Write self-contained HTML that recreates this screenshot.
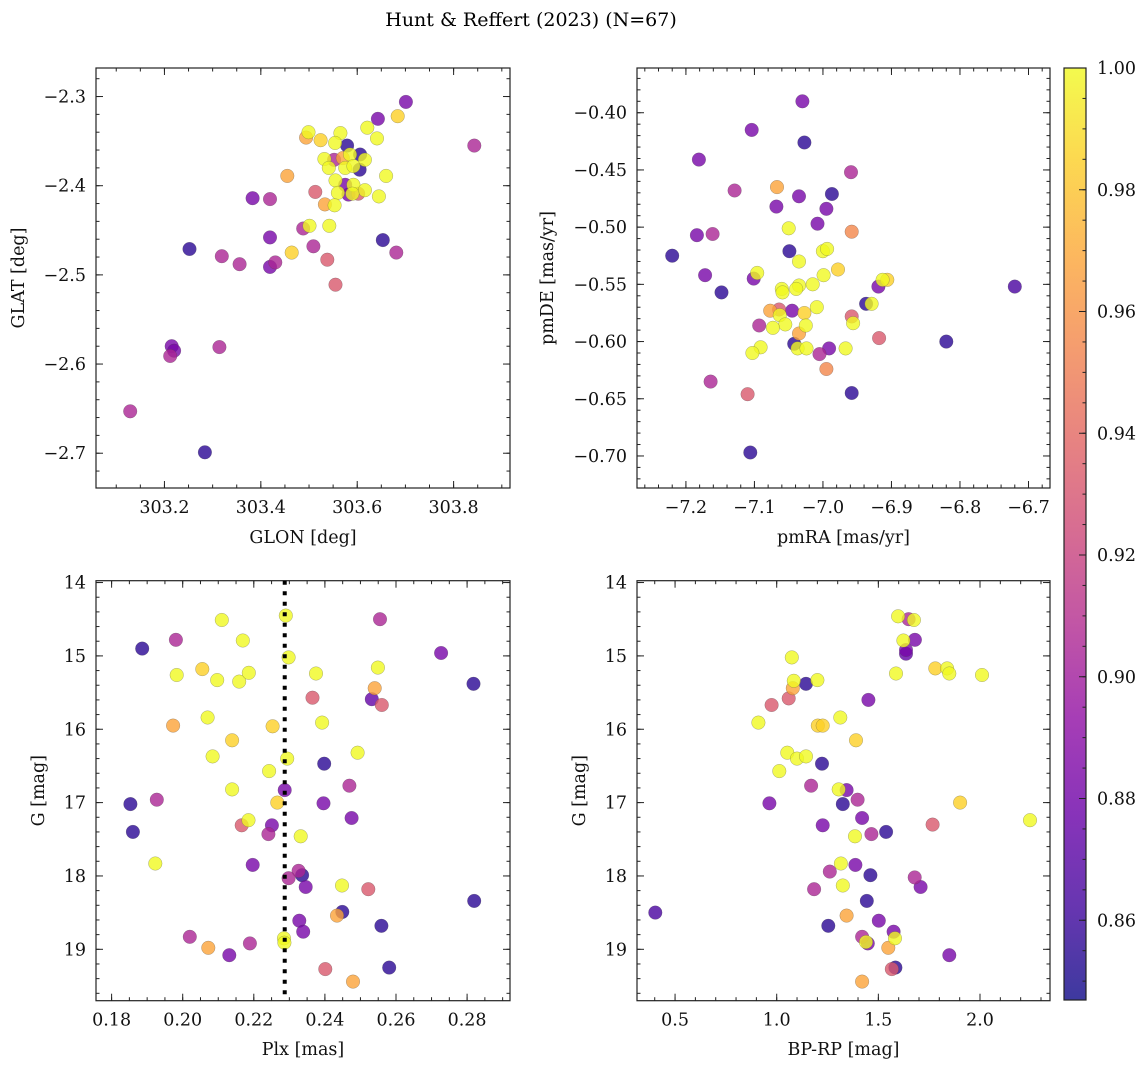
<!DOCTYPE html>
<html><head><meta charset="utf-8">
<style>
html,body{margin:0;padding:0;background:#fff;}
svg{display:block;font-family:"DejaVu Serif","Liberation Serif",serif;}
</style></head>
<body>
<svg id="fig" width="1148" height="1067" viewBox="0 0 1148 1067">
<defs>
<linearGradient id="plasmaGrad" x1="0" y1="1" x2="0" y2="0">
<stop offset="0" stop-color="#0d0887"/><stop offset="0.1" stop-color="#41049d"/><stop offset="0.2" stop-color="#6a00a8"/>
<stop offset="0.3" stop-color="#8f0da4"/><stop offset="0.4" stop-color="#b12a90"/><stop offset="0.5" stop-color="#cc4778"/>
<stop offset="0.6" stop-color="#e16462"/><stop offset="0.7" stop-color="#f2844b"/><stop offset="0.8" stop-color="#fca636"/>
<stop offset="0.9" stop-color="#fcce25"/><stop offset="1" stop-color="#f0f921"/>
</linearGradient>
</defs>
<text x="531" y="26" font-size="19" text-anchor="middle">Hunt &amp; Reffert (2023) (N=67)</text>
</svg>
<script>
// ---- Data ----
const vmin = 0.8469, vmax = 1.0;
const cbarTicks = [0.86, 0.88, 0.90, 0.92, 0.94, 0.96, 0.98, 1.00];

const p1_glon = [303.701,303.643,303.684,303.843,303.621,303.641,303.499,303.494,303.524,303.565,303.579,303.554,303.606,303.616,303.585,303.532,303.570,303.552,303.541,303.605,303.575,303.592,303.660,303.455,303.555,303.575,303.592,303.616,303.645,303.513,303.560,303.582,303.590,303.602,303.383,303.419,303.533,303.553,303.488,303.501,303.542,303.419,303.653,303.509,303.252,303.464,303.681,303.319,303.356,303.538,303.430,303.419,303.555,303.215,303.220,303.212,303.314,303.129,303.284];
const p1_glat = [-2.306,-2.325,-2.322,-2.355,-2.335,-2.347,-2.340,-2.346,-2.349,-2.341,-2.355,-2.352,-2.365,-2.371,-2.365,-2.370,-2.369,-2.371,-2.380,-2.382,-2.380,-2.378,-2.389,-2.389,-2.394,-2.399,-2.399,-2.405,-2.412,-2.407,-2.408,-2.410,-2.409,-2.409,-2.414,-2.415,-2.421,-2.422,-2.448,-2.445,-2.445,-2.458,-2.461,-2.468,-2.471,-2.475,-2.475,-2.479,-2.488,-2.483,-2.486,-2.491,-2.511,-2.580,-2.585,-2.591,-2.581,-2.653,-2.699];
const p1_prob = [0.883,0.883,0.985,0.905,1,1,1,0.968,0.985,1,0.855,1,0.855,1,1,1,0.968,0.905,1,0.855,1,1,1,0.968,1,0.883,1,1,1,0.932,1,0.883,1,0.932,0.883,0.905,0.968,1,0.905,1,1,0.883,0.855,0.905,0.855,0.985,0.905,0.905,0.905,0.932,0.905,0.883,0.932,0.883,0.883,0.905,0.905,0.905,0.855];

const p2_pmra = [-7.030,-7.104,-7.027,-7.181,-6.959,-7.129,-7.067,-7.035,-6.987,-7.068,-6.995,-7.008,-7.050,-6.958,-7.184,-7.161,-7.220,-7.049,-7.000,-6.994,-7.035,-6.978,-7.096,-7.101,-6.999,-7.172,-7.015,-7.035,-7.039,-7.060,-7.059,-7.148,-6.919,-6.913,-6.906,-6.720,-6.937,-6.929,-7.077,-7.064,-7.045,-7.027,-7.063,-7.009,-6.958,-6.956,-7.055,-7.093,-7.073,-7.025,-7.035,-6.918,-6.820,-7.042,-7.037,-7.024,-6.991,-7.005,-6.967,-7.091,-7.103,-6.995,-7.164,-7.110,-6.958,-7.106];
const p2_pmde = [-0.390,-0.415,-0.426,-0.441,-0.452,-0.468,-0.465,-0.473,-0.471,-0.482,-0.484,-0.497,-0.501,-0.504,-0.507,-0.506,-0.525,-0.521,-0.521,-0.519,-0.530,-0.537,-0.540,-0.545,-0.542,-0.542,-0.550,-0.551,-0.554,-0.554,-0.557,-0.557,-0.552,-0.546,-0.546,-0.552,-0.567,-0.567,-0.573,-0.572,-0.573,-0.575,-0.577,-0.570,-0.578,-0.584,-0.585,-0.586,-0.588,-0.586,-0.593,-0.597,-0.600,-0.602,-0.606,-0.606,-0.606,-0.611,-0.606,-0.605,-0.610,-0.624,-0.635,-0.646,-0.645,-0.697];
const p2_prob = [0.883,0.883,0.855,0.883,0.905,0.905,0.968,0.883,0.855,0.883,0.883,0.883,1,0.955,0.883,0.905,0.855,0.855,1,1,1,0.985,1,0.883,1,0.883,1,1,1,1,1,0.855,0.883,1,0.985,0.865,0.855,1,0.968,0.932,0.883,0.985,1,1,0.932,1,1,0.905,1,1,0.968,0.932,0.855,0.855,1,1,0.883,0.905,1,1,1,0.955,0.905,0.932,0.855,0.855];

const p3_plx = [0.2290,0.2110,0.2555,0.1981,0.2169,0.1886,0.2727,0.2298,0.2055,0.1983,0.2097,0.2159,0.2186,0.2375,0.2549,0.2818,0.2540,0.2365,0.2532,0.2560,0.2070,0.1973,0.2253,0.2392,0.2139,0.2492,0.2084,0.2294,0.2398,0.2243,0.2469,0.2139,0.2287,0.1927,0.2266,0.2396,0.1853,0.2475,0.2185,0.2166,0.2251,0.2241,0.1860,0.2332,0.1923,0.2197,0.2326,0.2336,0.2298,0.2346,0.2448,0.2522,0.2820,0.2449,0.2434,0.2328,0.2559,0.2339,0.2020,0.2285,0.2286,0.2072,0.2189,0.2131,0.2401,0.2581,0.2479];
const p3_g = [14.45,14.51,14.50,14.78,14.79,14.90,14.96,15.02,15.18,15.26,15.33,15.35,15.23,15.24,15.16,15.38,15.44,15.57,15.59,15.67,15.84,15.95,15.96,15.91,16.15,16.32,16.37,16.40,16.47,16.57,16.77,16.82,16.83,16.96,17.00,17.01,17.02,17.21,17.24,17.31,17.31,17.43,17.40,17.46,17.83,17.85,17.93,17.99,18.03,18.15,18.13,18.18,18.34,18.49,18.54,18.61,18.68,18.76,18.83,18.85,18.91,18.98,18.92,19.08,19.27,19.25,19.44];
const p3_prob = [1,1,0.905,0.905,1,0.855,0.883,1,0.985,1,1,1,1,1,1,0.855,0.968,0.932,0.875,0.932,1,0.968,0.985,1,0.985,1,1,1,0.855,1,0.905,1,0.883,0.905,0.985,0.883,0.855,0.883,1,0.932,0.883,0.905,0.855,1,1,0.883,0.905,0.855,0.905,0.883,1,0.932,0.855,0.855,0.968,0.883,0.855,0.883,0.905,1,1,0.968,0.905,0.883,0.932,0.855,0.968];
const p3_plxCut = 0.2287;

const p4_bprp = [1.597,1.649,1.675,1.680,1.623,1.636,1.636,1.074,1.780,1.838,1.849,1.587,2.010,1.084,1.200,1.144,1.079,1.059,1.451,0.975,1.313,0.910,1.202,1.226,1.390,1.052,1.100,1.144,1.013,1.223,1.169,1.305,1.344,1.398,0.964,1.325,1.902,1.420,2.246,1.226,1.767,1.538,1.466,1.385,1.316,1.387,1.261,1.461,1.679,1.708,1.325,1.184,1.443,0.403,1.344,1.502,1.254,1.575,1.420,1.582,1.448,1.439,1.549,1.849,1.584,1.566,1.420];
const p4_g = [14.46,14.50,14.51,14.78,14.79,14.92,14.97,15.02,15.17,15.17,15.24,15.24,15.26,15.34,15.33,15.38,15.44,15.58,15.60,15.67,15.84,15.91,15.95,15.95,16.15,16.32,16.40,16.37,16.57,16.47,16.77,16.82,16.83,16.96,17.01,17.02,17.00,17.21,17.24,17.31,17.30,17.40,17.43,17.46,17.83,17.85,17.94,17.99,18.02,18.15,18.13,18.18,18.34,18.50,18.54,18.61,18.68,18.76,18.83,18.85,18.92,18.90,18.98,19.08,19.25,19.27,19.44];
const p4_prob = [1,0.905,1,0.883,1,0.883,0.875,1,0.985,1,1,1,1,1,1,0.855,0.968,0.932,0.883,0.932,1,1,0.985,0.985,0.985,1,1,1,1,0.855,0.905,1,0.883,0.905,0.883,0.855,0.985,0.883,1,0.883,0.932,0.855,0.905,1,1,0.883,0.905,0.855,0.905,0.883,1,0.905,0.855,0.865,0.968,0.883,0.855,0.883,0.905,1,0.883,1,0.968,0.883,0.855,0.932,0.968];

const p1_xticks = [303.2,303.4,303.6,303.8], p1_yticks = [-2.3,-2.4,-2.5,-2.6,-2.7];
const p2_xticks = [-7.2,-7.1,-7.0,-6.9,-6.8,-6.7], p2_yticks = [-0.40,-0.45,-0.50,-0.55,-0.60,-0.65,-0.70];
const p3_xticks = [0.18,0.20,0.22,0.24,0.26,0.28], p3_yticks = [14,15,16,17,18,19];
const p4_xticks = [0.5,1.0,1.5,2.0], p4_yticks = [14,15,16,17,18,19];

// ---- Rendering ----
const NS = "http://www.w3.org/2000/svg";
const svg = document.getElementById('fig');
const FS = 17.5;
const stops = [[13,8,135],[65,4,157],[106,0,168],[143,13,164],[177,42,144],[204,71,120],[225,100,98],[242,132,75],[252,166,54],[252,206,37],[240,249,33]];
function plasma(v){
  let t = (v - vmin)/(vmax - vmin); t = Math.max(0, Math.min(1, t));
  const f = t*10, i = Math.min(9, Math.floor(f)), r = f - i;
  const a = stops[i], b = stops[i+1];
  return 'rgb(' + [0,1,2].map(k => Math.round(a[k] + (b[k]-a[k])*r)).join(',') + ')';
}
function mk(tag, attrs, parent){
  const e = document.createElementNS(NS, tag);
  for (const k in attrs) e.setAttribute(k, attrs[k]);
  (parent || svg).appendChild(e);
  return e;
}
function fmtMinus(s){ return s.replace('-', '\u2212'); }

function panel(cfg){
  const g = mk('g', {});
  
  
  const L = cfg.L, R = cfg.R, T = cfg.T, B = cfg.B;
  const sx = v => L + (v - cfg.x0)/(cfg.x1 - cfg.x0)*(R - L);
  const sy = v => cfg.yinv ? T + (v - cfg.y0)/(cfg.y1 - cfg.y0)*(B - T) : B - (v - cfg.y0)/(cfg.y1 - cfg.y0)*(B - T);
  const pts = mk('g', {}, g);
  
  
  const idx = cfg.xs.map((_, i) => i).sort((a, b) => cfg.cs[a] - cfg.cs[b]);
  idx.forEach(i => {
    const c = mk('circle', {cx: sx(cfg.xs[i]).toFixed(1), cy: sy(cfg.ys[i]).toFixed(1), r: 6.8, fill: plasma(cfg.cs[i]), 'fill-opacity': 0.8, stroke: 'rgba(70,70,70,0.45)', 'stroke-width': 0.5}, pts);
    
    
  });
  if (cfg.vline !== undefined){
    const vl = mk('line', {x1: sx(cfg.vline), x2: sx(cfg.vline), y1: T, y2: B, stroke: '#000', 'stroke-width': 4, 'stroke-dasharray': '4 6.5'}, g);
    
    
  }
  const fr = mk('rect', {x: L, y: T, width: R - L, height: B - T, fill: 'none', stroke: '#222', 'stroke-width': 1.2}, g);
  
  
  const tk = mk('g', {stroke: '#222', 'stroke-width': 1}, g);
  
  
  const eps = 1e-9;
  for (let v = Math.ceil(cfg.x0/cfg.xmin - eps)*cfg.xmin; v <= cfg.x1 + eps; v += cfg.xmin){
    const x = sx(v);
    mk('line', {x1: x, x2: x, y1: B, y2: B - 3.5}, tk); mk('line', {x1: x, x2: x, y1: T, y2: T + 3.5}, tk);
  }
  const ylo = Math.min(cfg.y0, cfg.y1), yhi = Math.max(cfg.y0, cfg.y1);
  for (let v = Math.ceil(ylo/cfg.ymin - eps)*cfg.ymin; v <= yhi + eps; v += cfg.ymin){
    const y = sy(v);
    mk('line', {x1: L, x2: L + 3.5, y1: y, y2: y}, tk); mk('line', {x1: R, x2: R - 3.5, y1: y, y2: y}, tk);
  }
  cfg.xt.forEach(v => {
    const x = sx(v);
    mk('line', {x1: x, x2: x, y1: B, y2: B - 7}, tk); mk('line', {x1: x, x2: x, y1: T, y2: T + 7}, tk);
    const t = mk('text', {x: x, y: B + 25, 'font-size': FS, 'text-anchor': 'middle', fill: '#111'}, g);
    t.textContent = fmtMinus(v.toFixed(cfg.xd));
    
    
  });
  cfg.yt.forEach(v => {
    const y = sy(v);
    mk('line', {x1: L, x2: L + 7, y1: y, y2: y}, tk); mk('line', {x1: R, x2: R - 7, y1: y, y2: y}, tk);
    const t = mk('text', {x: L - 10, y: y + 6, 'font-size': FS, 'text-anchor': 'end', fill: '#111'}, g);
    t.textContent = fmtMinus(v.toFixed(cfg.yd));
    
    
  });
  const xl = mk('text', {x: (L + R)/2, y: cfg.xly, 'font-size': FS, 'text-anchor': 'middle', fill: '#111'}, g);
  xl.textContent = cfg.xlabel;
  
  
  const yl = mk('text', {x: 0, y: 0, 'font-size': FS, 'text-anchor': 'middle', fill: '#111', transform: 'translate(' + cfg.ylx + ',' + (T + B)/2 + ') rotate(-90)'}, g);
  yl.textContent = cfg.ylabel;
  
  
}

panel({name:'glon-glat-panel', L:96, R:510, T:68, B:488, x0:303.058, x1:303.917, y0:-2.739, y1:-2.268, xs:p1_glon, ys:p1_glat, cs:p1_prob,
  xt:p1_xticks, yt:p1_yticks, xd:1, yd:1, xmin:0.05, ymin:0.02, xlabel:'GLON [deg]', ylabel:'GLAT [deg]', xly:543, ylx:24});
panel({name:'proper-motion-panel', L:637, R:1050, T:68, B:488, x0:-7.2714, x1:-6.6686, y0:-0.7280, y1:-0.3609, xs:p2_pmra, ys:p2_pmde, cs:p2_prob,
  xt:p2_xticks, yt:p2_yticks, xd:1, yd:2, xmin:0.02, ymin:0.01, xlabel:'pmRA [mas/yr]', ylabel:'pmDE [mas/yr]', xly:543, ylx:553});
panel({name:'parallax-magnitude-panel', L:96, R:510, T:580.7, B:1000.7, x0:0.17561, x1:0.29207, y0:13.9748, y1:19.7007, yinv:true, xs:p3_plx, ys:p3_g, cs:p3_prob,
  xt:p3_xticks, yt:p3_yticks, xd:2, yd:0, xmin:0.005, ymin:0.2, xlabel:'Plx [mas]', ylabel:'G [mag]', xly:1055, ylx:44});
panel({name:'color-magnitude-panel', L:637, R:1050, T:580.7, B:1000.7, x0:0.3128, x1:2.3443, y0:13.9748, y1:19.7007, yinv:true, xs:p4_bprp, ys:p4_g, cs:p4_prob,
  xt:p4_xticks, yt:p4_yticks, xd:1, yd:0, xmin:0.1, ymin:0.2, xlabel:'BP-RP [mag]', ylabel:'G [mag]', xly:1055, ylx:585});

// dotted cut line drawn via panel vline
(function(){
  const L = 96, R = 510, x0 = 0.17561, x1 = 0.29207;
  const x = L + (p3_plxCut - x0)/(x1 - x0)*(R - L);
  const vl = mk('line', {x1: x, x2: x, y1: 580.7, y2: 1000.7, stroke: '#000', 'stroke-width': 4, 'stroke-dasharray': '4 6.5'});
  
  
})();

// colorbar
(function(){
  const cb = mk('g', {});
  
  
  const T = 68, B = 1000, L = 1064, R = 1086;
  mk('rect', {x: L, y: T, width: R - L, height: B - T, fill: 'url(#plasmaGrad)', 'fill-opacity': 0.8}, cb);
  mk('rect', {x: L, y: T, width: R - L, height: B - T, fill: 'none', stroke: '#222', 'stroke-width': 1.2}, cb);
  const sy = v => B - (v - vmin)/(vmax - vmin)*(B - T);
  for (let v = 0.85; v <= 1.0001; v += 0.005){
    const y = sy(v); if (y < T - 0.5 || y > B) continue;
    mk('line', {x1: R, x2: R - 3.5, y1: y, y2: y, stroke: '#222', 'stroke-width': 1}, cb);
  }
  cbarTicks.forEach(v => {
    const y = sy(v);
    mk('line', {x1: R, x2: R - 7, y1: y, y2: y, stroke: '#222', 'stroke-width': 1}, cb);
    const t = mk('text', {x: R + 11, y: y + 6, 'font-size': FS, fill: '#111'}, cb);
    t.textContent = v.toFixed(2);
    
    
  });
})();
</script>
</body></html>
